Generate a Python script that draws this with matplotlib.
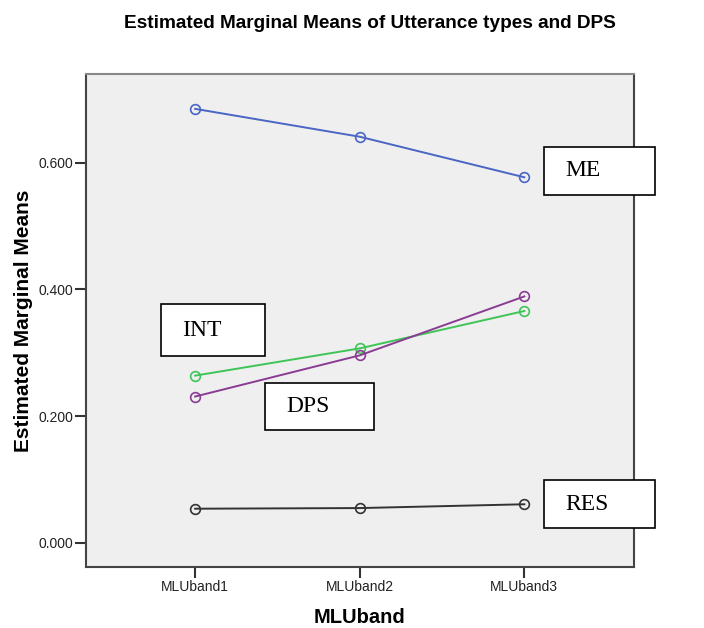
import matplotlib
matplotlib.use("Agg")
import matplotlib.pyplot as plt
from matplotlib.patches import Rectangle

plt.rcParams["font.family"] = ["Liberation Sans", "DejaVu Sans"]

# dane
bands = ["MLUband1", "MLUband2", "MLUband3"]
series_names = ["ME", "INT", "DPS", "RES"]
me_vals = [0.685, 0.641, 0.577]
int_vals = [0.264, 0.307, 0.366]
dps_vals = [0.231, 0.296, 0.389]
res_vals = [0.054, 0.055, 0.061]
y_ticks = [0.0, 0.2, 0.4, 0.6]

colors = {"ME": "#4a66c4", "INT": "#3fc457", "DPS": "#8a3c93", "RES": "#333333"}
values = {"ME": me_vals, "INT": int_vals, "DPS": dps_vals, "RES": res_vals}

# pozycje ramek z etykietami (w pikselach obrazka, x0, y0, x1, y1 od góry)
boxes = {
    "ME": (544, 147, 655, 195),
    "INT": (161, 304, 265, 356),
    "DPS": (265, 383, 374, 430),
    "RES": (544, 480, 655, 528),
}

W, H = 704, 628
fig = plt.figure(figsize=(W / 100, H / 100), dpi=100)
ax = fig.add_axes([85.5 / W, 1 - 567 / H, (634 - 85.5) / W, (567 - 74) / H])
ax.set_facecolor("#efefef")

x = list(range(1, len(bands) + 1))
for name in series_names:
    ax.plot(x, values[name], color=colors[name], lw=1.4, marker="o",
            ms=7, mfc="none", mec=colors[name], mew=1.2)

ax.set_xlim(0.334, 3.666)
ax.set_ylim(-0.038, 0.740)
ax.set_xticks(x)
ax.set_xticklabels(bands)
ax.set_yticks(y_ticks)
ax.set_yticklabels([f"{v:.3f}" for v in y_ticks])
ax.tick_params(axis="both", direction="out", length=8, width=1.5,
               color="#333333", labelsize=10, labelcolor="#222222", pad=1)
ax.tick_params(axis="x", pad=1.5)
for s in ax.spines.values():
    s.set_color("#444444")
    s.set_linewidth(1.5)
ax.spines["top"].set_color("#888888")

ax.set_xlabel("MLUband", fontsize=14.5, fontweight="bold", labelpad=10)
ax.set_ylabel("Estimated Marginal Means", fontsize=15, fontweight="bold",
              labelpad=4)
fig.text(124 / W, 1 - 24 / H, "Estimated Marginal Means of Utterance types and DPS",
         fontsize=13.7, fontweight="bold", ha="left", va="center")

for name in series_names:
    x0, y0, x1, y1 = boxes[name]
    rect = Rectangle((x0 / W, 1 - y1 / H), (x1 - x0) / W, (y1 - y0) / H,
                     transform=fig.transFigure, facecolor="white",
                     edgecolor="black", lw=1.2, zorder=5)
    fig.add_artist(rect)
    fig.text((x0 + 21) / W, 1 - (y0 + y1) / 2 / H, name,
             fontfamily="Liberation Serif", fontsize=17, ha="left",
             va="center", zorder=6)

plt.savefig("out.png", dpi=100)
